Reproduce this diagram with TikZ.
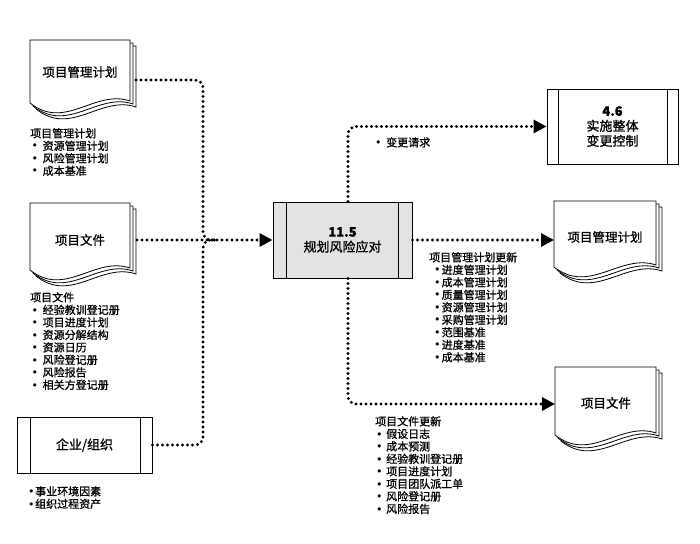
\documentclass[tikz,border=0pt]{standalone}
\usepackage{fontspec}
\setmainfont{Noto Sans CJK SC}[RawFeature={embolden=1.0}]
\newfontfamily\dv{DejaVu Sans}
\usetikzlibrary{arrows.meta,calc}
\newcommand\docicon[4]{%
  \foreach \o in {6,3,0}{%
    \filldraw[docline] (#1+\o,#2+\o) -- (#1+#3+\o,#2+\o) -- (#1+#3+\o,#2+#4-2+\o)
      .. controls (#1+0.65*#3+\o,#2+#4-14+\o) and (#1+0.35*#3+\o,#2+#4+28+\o) .. (#1+\o,#2+#4+\o) -- cycle;
  }}
\newcommand\bl[2]{\makebox[#2][l]{\hspace*{#1}{\dv •}}}
\begin{document}
\begin{tikzpicture}[x=1pt,y=-1pt,
  docline/.style={fill=white,draw=black,line width=0.8pt},
  hidden/.style={inner sep=0pt,outer sep=0pt,draw=none,minimum height=10pt},
  doclabel/.style={inner sep=0pt,font=\fontsize{12.5}{14}\selectfont},
  procbox/.style={draw=black,line width=1pt,fill=white,inner sep=0pt,align=center,font=\fontsize{13}{15}\selectfont},
  listtext/.style={inner sep=0pt,anchor=north west,align=left,font=\fontsize{11}{12.5}\selectfont},
  conn/.style={line width=3.2pt,dash pattern=on 0pt off 5pt,line cap=round,black,rounded corners=8pt},
  tip/.style={-{Triangle[length=13pt,width=13pt]}}]
\useasboundingbox (0,0) rectangle (700,543);

% documents
\docicon{30}{40}{100}{63}
\docicon{30}{203}{100}{67}
\docicon{554}{201}{102}{66}
\docicon{555}{367}{101}{68}

\node[doclabel] (pmpLt) at (80,72) {项目管理计划};
\node[doclabel] (pdLt) at (80,240) {项目文件};
\node[doclabel] (pmpRt) at (605,237) {项目管理计划};
\node[doclabel] (pdRt) at (606,403) {项目文件};

\node[hidden,minimum width=106pt] (pmpL) at (83,80) {};
\node[hidden,minimum width=106pt] (pdL) at (84,240) {};
\node[hidden,minimum width=108pt] (pmpR) at (608,240) {};
\node[hidden,minimum width=107pt] (pdR) at (608.5,404) {};

% process boxes
\node[procbox,minimum width=135pt,minimum height=56pt] (ent) at (84.5,445) {企业/组织};
\draw[line width=1pt] ([xshift=14pt]ent.north west) -- ([xshift=14pt]ent.south west);
\draw[line width=1pt] ([xshift=-12pt]ent.north east) -- ([xshift=-12pt]ent.south east);

\node[procbox,fill=black!11,minimum width=139pt,minimum height=76pt] (proc) at (342.5,240) {\textbf{11.5}\\规划风险应对};
\draw[line width=1pt] ([xshift=14pt]proc.north west) -- ([xshift=14pt]proc.south west);
\draw[line width=1pt] ([xshift=-14pt]proc.north east) -- ([xshift=-14pt]proc.south east);

\node[procbox,minimum width=131pt,minimum height=75pt] (cc) at (612.5,126.5) {\textbf{4.6}\\实施整体\\变更控制};
\draw[line width=1pt] ([xshift=12pt]cc.north west) -- ([xshift=12pt]cc.south west);
\draw[line width=1pt] ([xshift=-11pt]cc.north east) -- ([xshift=-11pt]cc.south east);

% connectors
\coordinate (jn) at (203,240);
\coordinate (jn2) at (216,240);
\draw[conn] (pmpL.east) -| (jn) -- (jn2);
\draw[conn] (ent.east) -| (jn) -- (jn2);
\draw[conn,tip] (pdL.east) -- (proc.west);
\draw[conn,tip] ([xshift=5.5pt]proc.north) |- (cc.west);
\draw[conn,tip] (proc.east) -- (pmpR.west);
\draw[conn,tip] ([xshift=5.5pt]proc.south) |- (pdR.west);

% lists
\node[listtext] (l1) at (30,128) {项目管理计划\\
\bl{1.5pt}{12.5pt}资源管理计划\\
\bl{1.5pt}{12.5pt}风险管理计划\\
\bl{1.5pt}{12.5pt}成本基准};
\node[listtext] (l2) at (30,292) {项目文件\\
\bl{1.5pt}{12.5pt}经验教训登记册\\
\bl{1.5pt}{12.5pt}项目进度计划\\
\bl{1.5pt}{12.5pt}资源分解结构\\
\bl{1.5pt}{12.5pt}资源日历\\
\bl{1.5pt}{12.5pt}风险登记册\\
\bl{1.5pt}{12.5pt}风险报告\\
\bl{1.5pt}{12.5pt}相关方登记册};
\node[listtext] (l3) at (28,486) {\bl{0pt}{7pt}事业环境因素\\
\bl{0pt}{7pt}组织过程资产};
\node[listtext] (l4) at (375,137) {\bl{0pt}{11pt}变更请求};
\node[listtext] (l5) at (429,252) {项目管理计划更新\\
\bl{5pt}{12.5pt}进度管理计划\\
\bl{5pt}{12.5pt}成本管理计划\\
\bl{5pt}{12.5pt}质量管理计划\\
\bl{5pt}{12.5pt}资源管理计划\\
\bl{5pt}{12.5pt}采购管理计划\\
\bl{5pt}{12.5pt}范围基准\\
\bl{5pt}{12.5pt}进度基准\\
\bl{5pt}{12.5pt}成本基准};
\node[listtext] (l6) at (375,416) {项目文件更新\\
\bl{1pt}{11pt}假设日志\\
\bl{1pt}{11pt}成本预测\\
\bl{1pt}{11pt}经验教训登记册\\
\bl{1pt}{11pt}项目进度计划\\
\bl{1pt}{11pt}项目团队派工单\\
\bl{1pt}{11pt}风险登记册\\
\bl{1pt}{11pt}风险报告};
\end{tikzpicture}
\end{document}
